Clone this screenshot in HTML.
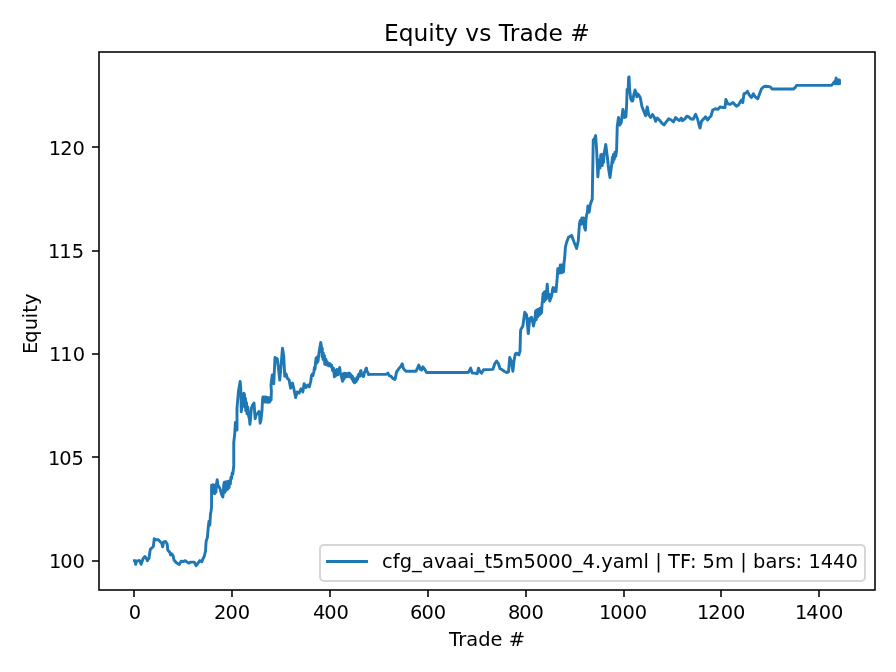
<!DOCTYPE html>
<html lang="en"><head><meta charset="utf-8"><title>Equity vs Trade #</title>
<style>
html,body{margin:0;padding:0;background:#fff;}
body{width:896px;height:672px;overflow:hidden;}
svg{display:block;}
text{font-family:"DejaVu Sans","Liberation Sans",sans-serif;fill:#000;}
.t{font-size:19.444px;}
.ti{font-size:23.333px;}
</style></head><body>
<svg width="896" height="672" viewBox="0 0 896 672">
<rect x="0" y="0" width="896" height="672" fill="#ffffff"/>
<defs><clipPath id="ax"><rect x="99" y="52" width="776" height="538"/></clipPath></defs>
<g stroke="#000" stroke-width="1.556" fill="none">
<line x1="134" y1="590" x2="134" y2="597"/>
<line x1="232" y1="590" x2="232" y2="597"/>
<line x1="330" y1="590" x2="330" y2="597"/>
<line x1="428" y1="590" x2="428" y2="597"/>
<line x1="526" y1="590" x2="526" y2="597"/>
<line x1="624" y1="590" x2="624" y2="597"/>
<line x1="721" y1="590" x2="721" y2="597"/>
<line x1="819" y1="590" x2="819" y2="597"/>
<line x1="99" y1="561" x2="92" y2="561"/>
<line x1="99" y1="457" x2="92" y2="457"/>
<line x1="99" y1="354" x2="92" y2="354"/>
<line x1="99" y1="251" x2="92" y2="251"/>
<line x1="99" y1="147" x2="92" y2="147"/>
</g>
<g class="t">
<text x="128.85" y="619">0</text>
<text x="214.03 225.40 237.65" y="619">200</text>
<text x="312.92 324.30 336.55" y="619">400</text>
<text x="410.02 421.39 433.64" y="619">600</text>
<text x="507.96 519.34 531.59" y="619">800</text>
<text x="598.88 610.25 622.50 634.75" y="619">1000</text>
<text x="696.91 708.29 720.66 732.91" y="619">1200</text>
<text x="794.90 806.28 818.65 830.90" y="619">1400</text>
<text x="48.98 60.35 72.60" y="568">100</text>
<text x="47.92 59.30 71.55" y="465">105</text>
<text x="48.90 60.27 72.65" y="361">110</text>
<text x="47.95 59.33 71.70" y="258">115</text>
<text x="48.85 60.23 72.60" y="155">120</text>
</g>
<path clip-path="url(#ax)" d="M134.50 560.75 L135.25 560.75 L135.62 564.25 L136.75 561.00 L138.00 560.88 L139.38 560.50 L140.12 561.25 L141.12 564.25 L143.00 558.75 L144.88 556.50 L146.12 558.12 L147.38 560.62 L149.00 558.12 L150.25 549.38 L151.75 548.12 L153.38 546.25 L154.25 538.75 L156.12 539.75 L158.38 539.75 L160.25 541.88 L161.75 543.12 L162.62 546.88 L163.62 541.88 L165.50 541.50 L167.12 543.75 L167.75 550.00 L169.88 552.50 L170.50 555.00 L171.75 553.75 L173.25 556.25 L174.00 560.00 L176.12 562.50 L179.25 564.38 L181.12 561.25 L183.62 561.50 L185.25 560.62 L186.75 561.88 L188.62 563.12 L190.50 562.12 L194.25 562.12 L196.12 565.62 L198.00 563.12 L199.88 560.62 L201.75 561.88 L203.00 558.75 L204.25 556.25 L205.50 551.25 L206.12 541.25 L207.38 537.50 L208.25 527.50 L209.00 521.25 L209.88 525.00 L210.50 513.75 L211.12 511.25 L211.56 506.00 L211.56 485.56 L212.19 493.19 L212.81 484.75 L213.44 493.31 L214.06 485.06 L214.69 493.50 L215.31 486.62 L215.94 492.25 L216.38 484.75 L217.19 479.62 L217.81 484.75 L218.75 486.62 L220.00 488.50 L220.94 492.25 L221.88 495.38 L222.81 497.06 L223.25 493.50 L223.75 484.75 L224.38 482.12 L225.00 492.25 L225.62 481.94 L226.25 490.38 L227.00 481.62 L227.81 489.12 L228.44 481.31 L229.06 487.56 L229.69 481.00 L230.31 484.12 L230.94 477.25 L231.56 478.50 L232.19 472.88 L232.81 474.12 L233.44 468.50 L233.75 466.00 L233.75 442.50 L234.75 433.75 L235.38 422.50 L237.00 430.00 L237.00 408.25 L238.38 392.00 L240.12 381.38 L240.75 388.25 L241.06 400.75 L241.25 411.81 L241.88 404.50 L242.94 400.75 L243.88 393.12 L243.38 403.88 L244.50 394.50 L244.62 407.00 L245.44 398.25 L245.75 410.75 L246.50 402.62 L247.00 413.88 L247.75 407.00 L248.56 415.75 L249.50 419.50 L249.94 424.38 L250.44 419.50 L251.38 408.25 L252.62 405.12 L254.00 402.94 L254.50 410.12 L255.12 418.69 L256.38 414.50 L257.94 412.94 L258.88 411.50 L259.50 413.25 L260.12 423.25 L261.06 419.50 L262.00 410.12 L262.50 400.75 L262.94 397.00 L263.56 401.69 L264.19 397.00 L265.00 402.00 L265.75 396.88 L266.50 402.12 L267.31 397.50 L268.12 402.31 L268.88 397.62 L269.62 402.12 L270.44 397.94 L271.06 400.12 L271.38 391.38 L271.00 385.00 L272.25 375.00 L273.75 383.75 L275.00 357.50 L277.25 358.75 L278.50 368.75 L279.75 380.00 L281.00 366.25 L282.50 348.12 L283.75 356.25 L284.75 376.25 L286.00 373.75 L287.25 378.12 L289.12 380.00 L290.62 388.12 L292.50 383.12 L294.12 390.00 L295.62 397.50 L297.25 391.88 L299.12 393.12 L301.00 388.75 L302.88 391.88 L304.12 383.75 L306.00 387.50 L307.88 385.00 L309.38 386.88 L310.75 381.25 L311.50 375.50 L312.38 373.94 L312.88 375.50 L313.81 372.06 L314.44 367.38 L315.06 369.25 L315.50 363.00 L316.12 358.00 L316.94 363.00 L317.56 356.75 L318.00 361.44 L318.62 356.12 L319.25 351.25 L319.88 347.38 L320.75 342.56 L321.50 347.38 L321.12 351.44 L322.38 348.62 L322.12 356.75 L323.25 353.00 L323.00 359.56 L324.44 355.50 L324.75 364.25 L325.88 359.25 L326.50 364.88 L327.25 361.88 L328.50 365.81 L330.00 363.62 L330.69 366.44 L331.62 365.19 L332.56 370.50 L333.50 368.00 L334.38 376.75 L335.12 370.50 L336.00 375.50 L336.94 369.56 L337.75 374.88 L338.62 370.50 L339.75 367.56 L340.25 373.00 L341.00 375.00 L342.50 381.25 L343.25 373.75 L343.75 379.38 L344.25 373.25 L344.88 377.50 L345.50 373.44 L346.25 376.88 L347.00 373.62 L347.88 376.56 L348.62 373.25 L349.50 373.12 L350.25 376.88 L351.00 374.69 L351.75 378.75 L352.38 376.25 L353.12 381.25 L353.75 378.44 L354.50 382.81 L355.00 382.50 L355.62 379.38 L356.25 381.56 L356.88 377.50 L357.62 379.38 L358.25 375.00 L359.12 373.75 L359.88 376.25 L360.50 370.94 L361.00 370.62 L361.62 375.00 L362.50 374.06 L363.12 376.56 L363.75 376.25 L364.38 372.50 L365.38 371.25 L365.75 368.75 L366.38 368.12 L367.00 371.25 L367.88 372.50 L368.50 374.69 L369.12 374.38 L376.00 374.38 L377.25 374.38 L386.00 374.38 L387.88 373.12 L389.12 375.62 L391.00 376.25 L392.50 378.12 L395.00 379.38 L396.62 371.88 L398.75 368.75 L400.38 366.88 L402.25 363.75 L403.50 368.75 L406.00 371.25 L416.00 371.25 L417.50 368.12 L418.75 365.00 L420.38 369.38 L421.62 370.00 L422.88 366.88 L424.75 369.38 L426.62 372.50 L466.00 372.50 L468.50 372.25 L470.62 368.12 L472.25 373.12 L474.75 373.12 L477.25 373.75 L478.50 368.12 L479.75 371.25 L481.62 373.12 L483.50 369.75 L492.88 369.38 L494.75 363.75 L496.62 361.00 L498.50 363.75 L500.00 368.75 L501.62 369.38 L504.12 371.25 L506.62 372.50 L508.50 371.88 L509.75 357.50 L511.25 361.25 L512.88 371.25 L514.12 360.00 L515.38 353.75 L516.62 353.12 L518.75 355.00 L520.00 351.25 L520.50 332.50 L520.75 329.75 L522.88 326.00 L524.75 312.25 L526.62 314.75 L528.25 333.50 L529.75 318.50 L531.62 317.25 L533.50 326.00 L535.00 318.50 L535.62 311.00 L536.25 319.75 L536.88 310.06 L537.81 316.62 L538.44 309.12 L539.38 315.06 L540.12 308.19 L540.94 313.50 L541.62 312.25 L542.00 304.75 L542.50 300.38 L543.12 293.50 L543.75 301.62 L544.25 292.25 L545.00 300.38 L545.62 291.31 L546.25 299.12 L546.88 288.50 L547.25 284.12 L547.81 293.50 L548.50 297.25 L549.06 294.12 L549.75 301.12 L550.62 298.50 L551.62 296.00 L552.50 289.75 L553.12 287.56 L553.75 291.62 L554.75 287.88 L556.00 291.62 L557.25 277.25 L557.81 268.75 L558.44 273.25 L559.06 268.12 L559.69 273.12 L560.31 265.00 L560.94 272.81 L561.56 265.00 L562.19 272.50 L562.81 264.69 L563.44 272.00 L564.06 262.50 L564.69 257.50 L565.19 250.62 L565.38 247.25 L566.62 242.25 L568.50 237.25 L571.62 235.38 L574.12 242.25 L576.62 248.50 L578.25 241.00 L579.50 223.50 L580.25 220.50 L581.00 224.25 L581.81 218.00 L582.62 223.62 L583.50 217.88 L584.31 226.75 L585.38 230.19 L585.88 220.50 L586.50 215.50 L587.44 211.75 L587.88 206.00 L589.12 212.25 L590.38 204.12 L592.25 199.12 L592.50 183.50 L593.25 140.00 L594.50 138.75 L595.62 135.62 L596.62 150.00 L597.88 176.88 L599.12 160.00 L600.00 168.12 L600.75 155.00 L601.62 154.38 L602.25 165.62 L602.88 155.00 L603.50 162.50 L604.12 153.75 L605.75 144.38 L607.25 156.25 L608.75 170.00 L610.00 177.50 L611.62 165.00 L612.50 156.88 L613.00 162.50 L613.50 154.38 L614.25 159.38 L615.00 152.25 L615.75 156.25 L616.62 150.00 L617.25 126.25 L618.50 117.50 L619.75 125.00 L621.25 122.50 L622.88 109.38 L624.38 117.50 L625.88 116.88 L626.62 105.00 L627.12 89.38 L628.25 88.50 L628.62 77.50 L629.12 76.88 L629.50 88.12 L630.00 92.75 L630.75 98.75 L631.88 101.00 L632.75 100.75 L633.75 95.00 L635.00 90.00 L636.00 92.75 L636.88 96.88 L637.75 94.00 L638.75 95.00 L640.25 97.50 L641.88 106.25 L643.75 111.25 L645.62 115.62 L647.25 106.88 L648.75 115.00 L650.62 117.50 L652.50 114.38 L654.38 117.50 L655.62 121.25 L657.25 118.12 L659.38 120.00 L661.88 123.12 L664.00 125.00 L666.25 121.88 L668.75 118.75 L671.25 120.00 L673.50 121.88 L675.62 117.50 L677.50 119.38 L679.38 120.62 L681.25 118.12 L682.50 120.62 L685.00 118.75 L686.88 116.25 L688.75 116.88 L690.62 118.75 L693.12 119.38 L695.62 114.38 L697.50 118.75 L698.75 123.75 L700.00 128.12 L701.50 121.25 L703.75 118.75 L705.62 116.88 L707.50 120.00 L709.38 117.50 L710.88 116.25 L712.75 110.00 L715.25 108.75 L717.75 109.38 L720.25 106.88 L722.75 107.50 L725.00 107.50 L725.88 99.38 L727.75 103.75 L730.25 104.38 L733.00 102.50 L734.62 104.38 L736.50 106.25 L738.38 105.00 L740.25 101.88 L741.50 100.00 L742.75 102.50 L744.00 93.75 L745.88 93.12 L747.50 91.25 L749.25 95.00 L751.50 97.50 L753.38 93.75 L755.25 96.88 L757.75 98.75 L759.62 93.75 L761.50 88.75 L764.00 86.50 L766.50 86.25 L770.25 86.88 L772.12 89.00 L793.38 89.00 L795.25 87.50 L796.50 85.38 L804.00 85.38 L831.50 85.40 L833.00 83.60 L834.50 81.60 L835.20 83.80 L836.10 78.00 L836.60 83.60 L837.20 79.80 L837.80 83.90 L838.40 79.90 L839.00 83.90 L839.50 79.90 L839.50 83.40" fill="none" stroke="#1f77b4" stroke-width="2.917" stroke-linejoin="round" stroke-linecap="square"/>
<rect x="99" y="52" width="776" height="538" fill="none" stroke="#000" stroke-width="1.556" stroke-linejoin="miter"/>
<text class="ti" x="383.96 398.71 413.46 428.34 434.96 444.09 457.96 465.34 479.21 491.46 498.84 509.84 519.59 533.84 548.59 562.96 570.34" y="41">Equity vs Trade #</text>
<text class="t" x="449.04 458.16 466.29 478.16 490.54 502.54 508.79" y="646">Trade #</text>
<text class="t" transform="translate(37 324.25) rotate(-90)" x="-29.75 -18.50 -6.12 6.12 11.62 19.25" y="0">Equity</text>
<rect x="320" y="545" width="545" height="36" rx="3.9" ry="3.9" fill="#fff" fill-opacity="0.8" stroke="#cccccc" stroke-opacity="0.8" stroke-width="2"/>
<line x1="327.5" y1="561.5" x2="366.5" y2="561.5" stroke="#1f77b4" stroke-width="2.917" stroke-linecap="square"/>
<text class="t" x="382.00 392.75 399.75 412.12 422.00 433.88 445.38 457.25 469.12 474.62 484.50 492.12 504.62 523.50 536.00 548.25 560.50 572.75 582.62 595.00 601.25 612.75 624.62 643.50 649.00 655.25 661.88 668.12 680.12 689.88 696.38 702.62 715.12 734.00 740.25 746.88 753.12 765.50 777.38 785.50 795.62 802.12 808.38 820.75 833.12 845.50" y="568">cfg_avaai_t5m5000_4.yaml | TF: 5m | bars: 1440</text>
</svg>
</body></html>
